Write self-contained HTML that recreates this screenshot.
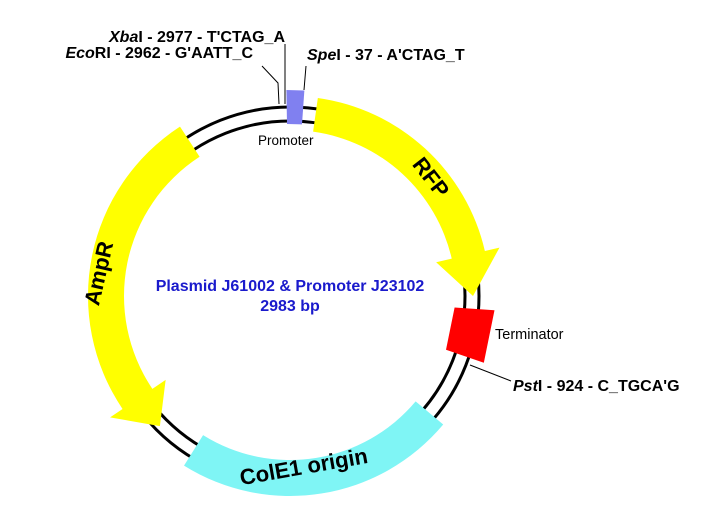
<!DOCTYPE html>
<html><head><meta charset="utf-8"><style>
body{margin:0;background:#fff}
svg{display:block;font-family:"Liberation Sans",Arial,sans-serif}
</style></head><body>
<svg id="s" width="702" height="524" viewBox="0 0 702 524" xmlns="http://www.w3.org/2000/svg">
<g id="g"></g>
<text x="290" y="291" text-anchor="middle" font-size="16" font-weight="bold" fill="#1a1acc">Plasmid J61002 &amp; Promoter J23102</text>
<text x="290" y="311" text-anchor="middle" font-size="16" font-weight="bold" fill="#1a1acc">2983 bp</text>
<text x="285" y="42" text-anchor="end" font-size="16" font-weight="bold"><tspan font-style="italic">Xba</tspan>I - 2977 - T'CTAG_A</text>
<text x="253" y="58" text-anchor="end" font-size="16" font-weight="bold"><tspan font-style="italic">Eco</tspan>RI - 2962 - G'AATT_C</text>
<text x="307" y="60" font-size="16" font-weight="bold"><tspan font-style="italic">Spe</tspan>I - 37 - A'CTAG_T</text>
<text x="513" y="391" font-size="16" font-weight="bold"><tspan font-style="italic">Pst</tspan>I - 924 - C_TGCA'G</text>
<text x="258" y="145" font-size="13.5">Promoter</text>
<text x="495" y="339" font-size="14.5">Terminator</text>
<polyline points="262,66 278,83 279,104" fill="none" stroke="#000" stroke-width="1"/>
<line x1="285" y1="44" x2="285" y2="104" stroke="#000"/>
<line x1="306" y1="66" x2="304" y2="90" stroke="#000"/>
<line x1="470" y1="365" x2="511" y2="381" stroke="#000"/>
</svg>
<script>
var cx=290,cy=296,g=document.getElementById('g'),NS="http://www.w3.org/2000/svg";
function P(r,t){t=t*Math.PI/180;return [cx+r*Math.sin(t),cy-r*Math.cos(t)];}
function add(tag,at){var e=document.createElementNS(NS,tag);for(var k in at)e.setAttribute(k,at[k]);g.appendChild(e);return e;}
function arc(r,a,b){var p=P(r,a),q=P(r,b);return "M"+p+" A"+r+","+r+" 0 "+((Math.abs(b-a)>180)?1:0)+","+(b>a?1:0)+" "+q;}
add('circle',{cx:cx,cy:cy,r:175,fill:'none',stroke:'#000','stroke-width':3});
add('circle',{cx:cx,cy:cy,r:189,fill:'none',stroke:'#000','stroke-width':3});
function band(a,b,r1,r2,fill){var p=P(r2,b),q=P(r1,a);
 add('path',{d:arc(r2,a,b)+" L"+P(r1,b)+" A"+r1+","+r1+" 0 "+((Math.abs(b-a)>180)?1:0)+","+(b>a?0:1)+" "+q+"Z",fill:fill});}
function arrow(a,hb,tip,r1,r2,h1,h2,fill){
 var d=arc(r2,a,hb)+" L"+P(h2,hb)+" L"+P((r1+r2)/2,tip)+" L"+P(h1,hb)+" L"+P(r1,hb)+" A"+r1+","+r1+" 0 0,"+(hb>a?0:1)+" "+P(r1,a)+"Z";
 add('path',{d:d,fill:fill});}
arrow(8,77,90,166,200,150,215,'#ffff00');
arrow(327,236,225,166,202,150,217,'#ffff00');
band(130,212,164,200,'#7ff5f5');
add('path',{d:"M"+P(172,-1)+" L"+P(206,-1)+" L"+P(206,4)+" L"+P(172,4)+"Z",fill:'#8080f0'});
add('path',{d:"M"+P(165,94)+" L"+P(205,94)+" L"+P(205,109)+" L"+P(165,109)+"Z",fill:'#ff0000'});
function txt(s,x,y,rot){var e=add('text',{x:x,y:y,'text-anchor':'middle','font-size':22,'font-weight':'bold',transform:'rotate('+rot+' '+x+' '+y+')'});e.textContent=s;}
txt('RFP',425,182,52);txt('AmpR',106,275,-77);txt('ColE1 origin',305,474,-10);
</script>
</body></html>
